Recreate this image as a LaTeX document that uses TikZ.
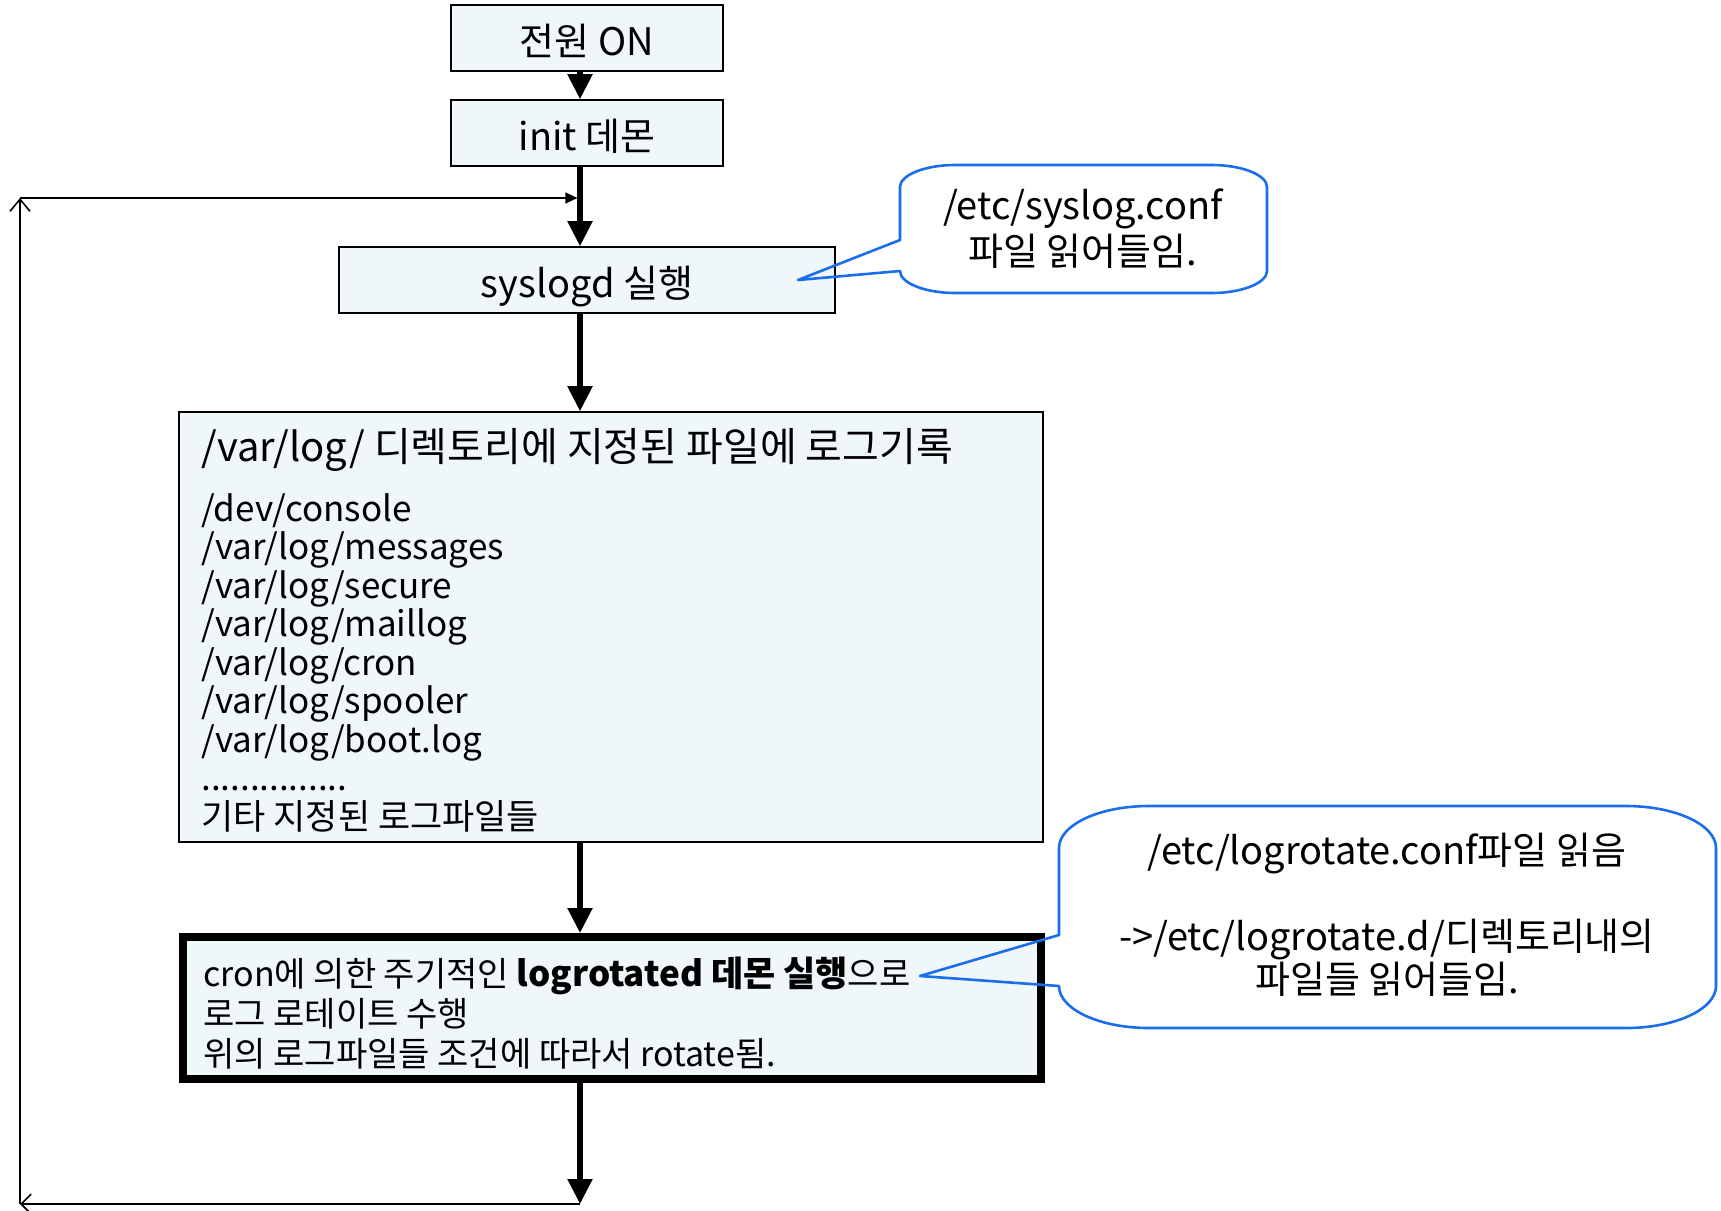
\documentclass[tikz,border=0pt]{standalone}
\usepackage{fontspec}
\setmainfont{Noto Sans CJK KR}
\usetikzlibrary{arrows.meta}
\definecolor{boxfill}{RGB}{240,247,250}
\definecolor{noteblue}{RGB}{26,110,235}

\tikzset{
  stage/.style={draw, fill=boxfill, line width=0.8pt, inner sep=0pt, text height=21pt, text depth=4pt,
    font=\fontsize{19}{22}\selectfont},
  flow/.style={line width=2.6pt, -{Triangle[length=12.5pt,width=12pt]}},
  back/.style={line width=0.8pt},
  note/.style={draw=noteblue, line width=1.3pt, line join=round},
  notetext/.style={align=center, inner sep=0pt, font=\fontsize{19}{23}\selectfont},
}

\begin{document}
\begin{tikzpicture}[x=0.5pt, y=-0.5pt]
\useasboundingbox (0,0) rectangle (1721,1211);
\coordinate (spine) at (580,0);

% flow boxes
\node[stage, minimum width=136pt, minimum height=33pt] (power) at (587,38) {전원 ON};
\node[stage, minimum width=136pt, minimum height=33pt] (init) at (587,133) {init 데몬};
\node[stage, minimum width=248pt, minimum height=33pt] (syslogd) at (587,280) {syslogd 실행};
\node[stage, text height=, text depth=, minimum width=432pt, minimum height=215pt] (logdir) at (611,627) {};
\node[stage, text height=, text depth=, line width=4pt, minimum width=429pt, minimum height=71pt] (rotate) at (612,1008) {};

% texts in the two big boxes
\node[anchor=north west, align=left, inner sep=0pt, font=\fontsize{17.5}{19.25}\selectfont] (logfiles) at (201,428)
  {{\fontsize{20}{19.25}\selectfont /var/log/ 디렉토리에 지정된 파일에 로그기록}\\[10.75pt]
   /dev/console\\
   /var/log/messages\\
   /var/log/secure\\
   /var/log/maillog\\
   /var/log/cron\\
   /var/log/spooler\\
   /var/log/boot.log\\
   ...............\\
   기타 지정된 로그파일들};
\node[anchor=north west, align=left, inner sep=0pt, font=\fontsize{17}{20}\selectfont] (rotatetext) at (203,957)
  {cron에 의한 주기적인 {\fontsize{17.5}{20}\selectfont\bfseries logrotated 데몬 실행}으로\\
   로그 로테이트 수행\\
   위의 로그파일들 조건에 따라서 rotate됨.};

% main flow
\draw[flow] (power.south -| spine) -- (init.north -| spine);
\draw[flow] (init.south -| spine) -- (syslogd.north -| spine);
\draw[flow] (syslogd.south -| spine) -- (logdir.north -| spine);
\draw[flow] (logdir.south -| spine) -- (rotate.north -| spine);
\coordinate (loopbr) at (580,1204);
\draw[flow] (rotate.south -| spine) -- (loopbr);

% loop back
\coordinate (loopbl) at (20,1204);
\coordinate (looptl) at (20,198);
\coordinate (join) at (580,198);
\draw[back, -{Straight Barb[length=5pt,width=10pt]}] (loopbr) -- (loopbl);
\draw[back, -{Straight Barb[length=6pt,width=10pt]}] (loopbl) -- (looptl);
\draw[back, -{Triangle[length=6pt,width=5.5pt]}, shorten >=1.3pt] (looptl) -- (join);

% callouts
\draw[note] (900,187) .. controls (900,175) and (925,165) .. (955,165) -- (1212,165)
  .. controls (1242,165) and (1267,175) .. (1267,187) -- (1267,271)
  .. controls (1267,283) and (1242,293) .. (1212,293) -- (955,293)
  .. controls (925,293) and (900,283) .. (900,271) -- (798,280) -- (900,240) -- cycle;
\node[notetext] (syslogconf) at (1083,229) {/etc/syslog.conf\\파일 읽어들임.};

\draw[note] (1059,848) .. controls (1059,825) and (1099,806) .. (1149,806) -- (1626,806)
  .. controls (1676,806) and (1716,825) .. (1716,848) -- (1716,986)
  .. controls (1716,1009) and (1676,1028) .. (1626,1028) -- (1149,1028)
  .. controls (1099,1028) and (1059,1009) .. (1059,986) -- (920,976) -- (1059,935) -- cycle;
\node[notetext, font=\fontsize{19}{21.5}\selectfont] (logrotconf) at (1387,915)
  {/etc/logrotate.conf파일 읽음\\[21.5pt]->/etc/logrotate.d/디렉토리내의\\파일들 읽어들임.};
\end{tikzpicture}
\end{document}
